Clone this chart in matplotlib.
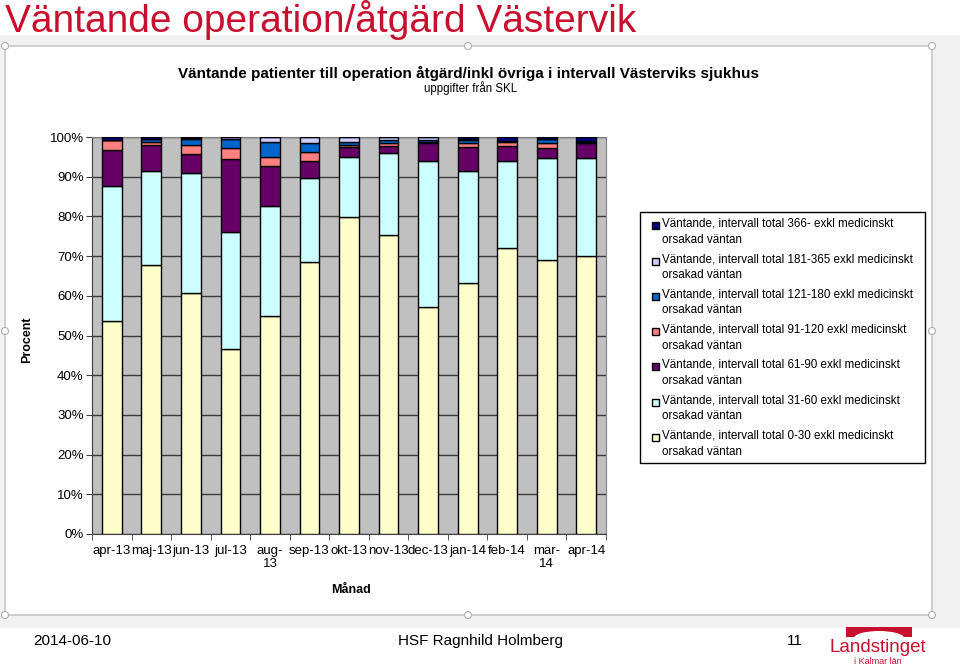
# -*- coding: utf-8 -*-
"""
Väntande operation/åtgärd Västervik - staplat stapeldiagram (procent)
"""

import matplotlib
matplotlib.use("Agg")
import matplotlib.pyplot as plt
from matplotlib.patches import Rectangle, Ellipse
from matplotlib.container import BarContainer
import numpy as np

# Data (procent)
months = ["apr-13", "maj-13", "jun-13", "jul-13", "aug-\n13", "sep-13", "okt-13",
          "nov-13", "dec-13", "jan-14", "feb-14", "mar-\n14", "apr-14"]
d0_30 = [53.7, 67.8, 60.7, 46.6, 55.0, 68.6, 79.8, 75.4, 57.1, 63.3, 72.1, 69.0, 70.1]
d31_60 = [34.0, 23.7, 30.2, 29.5, 27.6, 21.0, 15.1, 20.5, 36.9, 28.2, 21.9, 25.6, 24.7]
d61_90 = [9.0, 6.5, 4.7, 18.3, 10.1, 4.4, 2.7, 1.8, 4.4, 6.0, 3.7, 2.6, 3.6]
d91_120 = [2.5, 0.8, 2.4, 2.8, 2.3, 2.3, 0.5, 0.9, 0.4, 1.1, 1.0, 1.2, 0.2]
d121_180 = [0.0, 0.8, 1.4, 2.3, 3.8, 2.3, 0.7, 0.6, 0.4, 0.6, 0.4, 1.0, 0.2]
d181_365 = [0.0, 0.0, 0.4, 0.5, 1.2, 1.4, 1.2, 0.8, 0.8, 0.4, 0.0, 0.0, 0.2]
d366 = [0.8, 0.4, 0.2, 0.0, 0.0, 0.0, 0.0, 0.0, 0.0, 0.4, 0.9, 0.6, 1.0]

intervals = ["0-30", "31-60", "61-90", "91-120", "121-180", "181-365", "366-"]
series = [d0_30, d31_60, d61_90, d91_120, d121_180, d181_365, d366]
colors = ["#FFFFCC", "#CCFFFF", "#660066", "#FF8080", "#0066CC", "#CCCCFF", "#000080"]
yticks = [0, 10, 20, 30, 40, 50, 60, 70, 80, 90, 100]

RED = "#C8102E"
plt.rcParams['font.family'] = ['Liberation Sans', 'DejaVu Sans']

W, H = 960, 669
fig = plt.figure(figsize=(W / 100, H / 100), dpi=100)
fig.patch.set_facecolor("white")

def fx(px):
    return px / W

def fy(py):
    return 1 - py / H


class SquareHandler:
    """Liten kvadrat i legenden, i höjd med första textraden"""
    def legend_artist(self, legend, orig_handle, fontsize, handlebox):
        s = 0.6 * fontsize
        x0 = handlebox.xdescent + handlebox.width - s
        y0 = handlebox.ydescent + handlebox.height / 2 - s / 2 + 0.62 * fontsize
        patch = Rectangle((x0, y0), s, s, facecolor=orig_handle.patches[0].get_facecolor(),
                          edgecolor="black", linewidth=1.0, transform=handlebox.get_transform())
        handlebox.add_artist(patch)
        return patch


# Bakgrund (bildspel) och diagramyta
fig.patches.append(Rectangle((0, fy(628)), 1, fy(35) - fy(628), transform=fig.transFigure,
                             facecolor="#F2F2F2", edgecolor="none", zorder=0))
fig.patches.append(Rectangle((fx(5), fy(615)), fx(932) - fx(5), fy(46) - fy(615),
                             transform=fig.transFigure, facecolor="white",
                             edgecolor="#C8C8C8", linewidth=1.2, zorder=1))
for hx, hy in [(5, 46), (468, 46), (932, 46), (5, 331), (932, 331),
               (5, 615), (468, 615), (932, 615)]:
    fig.patches.append(Ellipse((fx(hx), fy(hy)), 7 / W, 7 / H, transform=fig.transFigure,
                               facecolor="white", edgecolor="#B0B0B0", linewidth=0.8, zorder=2))

# Rubriker
fig.text(fx(5), fy(32), "Väntande operation/åtgärd Västervik", color=RED, fontsize=28,
         va="baseline", ha="left")
fig.text(fx(469), fy(73), "Väntande patienter till operation åtgärd/inkl övriga i intervall Västerviks sjukhus",
         fontsize=11, fontweight="bold", ha="center", va="center")
fig.text(fx(471), fy(88), "uppgifter från SKL", fontsize=8.3, ha="center", va="center")

# Diagram
ax = fig.add_axes([fx(92), fy(534), fx(606) - fx(92), fy(137) - fy(534)])
ax.set_zorder(5)
ax.set_facecolor("#C0C0C0")
x = np.arange(len(months))
bottom = np.zeros(len(months))
for name, vals, col in zip(intervals, series, colors):
    label = "Väntande, intervall total %s exkl medicinskt\norsakad väntan" % name
    ax.bar(x, vals, 0.5, bottom=bottom, color=col, edgecolor="black", linewidth=1.0,
           label=label, zorder=3)
    bottom += np.array(vals)

ax.set_xlim(-0.5, len(months) - 0.5)
ax.set_ylim(0, 100)
ax.set_yticks(yticks)
ax.set_yticklabels(["%d%%" % t for t in yticks], fontsize=9.5)
ax.yaxis.grid(True, color="#3C3C3C", linewidth=1.0, zorder=1)
ax.set_axisbelow(True)
ax.set_xticks(x)
ax.set_xticklabels(months, fontsize=9.5, linespacing=1.15)
ax.set_xticks(np.arange(len(months) + 1) - 0.5, minor=True)
ax.tick_params(axis="x", which="major", length=0, pad=8)
ax.tick_params(axis="x", which="minor", length=4, direction="out", color="#404040")
ax.tick_params(axis="y", length=4, direction="out", color="#404040", pad=2)
for s in ax.spines.values():
    s.set_color("#808080")
ax.spines["left"].set_color("#404040")
ax.spines["bottom"].set_color("#404040")

fig.text(fx(27), fy(340), "Procent", rotation=90, fontsize=9, fontweight="bold",
         ha="center", va="center")
fig.text(fx(351), fy(590), "Månad", fontsize=9, fontweight="bold", ha="center", va="center")

# Legend (omvänd ordning, 366- överst)
handles, labels = ax.get_legend_handles_labels()
leg = fig.legend(handles[::-1], labels[::-1], loc="upper left",
                 bbox_to_anchor=(fx(640), fy(461), fx(925) - fx(640), fy(212) - fy(461)),
                 mode="expand", fontsize=8.4, frameon=True, fancybox=False,
                 edgecolor="black", framealpha=1, handlelength=1.1, handleheight=0.6,
                 handletextpad=0.3, labelspacing=0.62, borderpad=0.5, borderaxespad=0,
                 handler_map={BarContainer: SquareHandler()})
leg.get_frame().set_linewidth(1.0)
leg.set_zorder(6)
for t in leg.get_texts():
    t.set_linespacing(1.45)

# Sidfot
fig.text(fx(33), fy(641), "2014-06-10", fontsize=11, ha="left", va="center")
fig.text(fx(480), fy(641), "HSF Ragnhild Holmberg", fontsize=11, ha="center", va="center")
fig.text(fx(795), fy(641), "11", fontsize=11, ha="center", va="center")

# Logotyp
fig.patches.append(Rectangle((fx(846), fy(637)), fx(912) - fx(846), fy(627) - fy(637),
                             transform=fig.transFigure, facecolor=RED, edgecolor="none", zorder=3))
fig.patches.append(Ellipse((fx(879), fy(638)), 50 / W, 14 / H, transform=fig.transFigure,
                           facecolor="white", edgecolor="none", zorder=4))
fig.text(fx(878), fy(647), "Landstinget", color=RED, fontsize=13.5,
         ha="center", va="center", zorder=5)
fig.text(fx(878), fy(661), "i Kalmar län", color=RED, fontsize=6.5, ha="center", va="center")

fig.savefig("out.png", dpi=100)
